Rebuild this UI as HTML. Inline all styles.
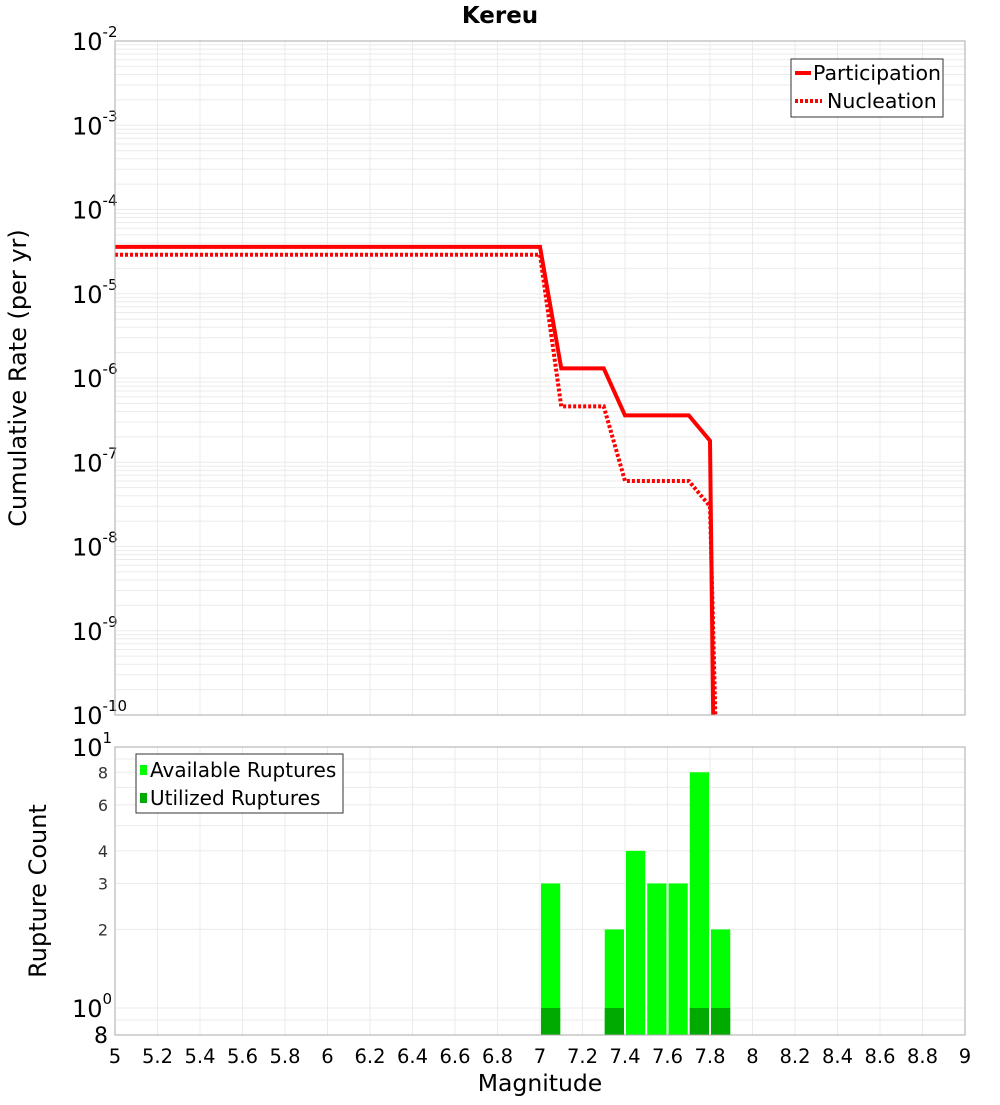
<!DOCTYPE html>
<html><head><meta charset="utf-8"><style>
body{margin:0;background:#fff;}
svg text{font-family:"DejaVu Sans","Liberation Sans",sans-serif;}
</style></head><body>
<svg id="chart" width="1000" height="1100" xmlns="http://www.w3.org/2000/svg">
<rect width="1000" height="1100" fill="#fff"/>
<text x="500" y="23" text-anchor="middle" font-size="23" font-weight="bold">Kereu</text>
<g id="grid"></g>
<g id="bars"></g>
<g id="lines"></g>
<g id="axes"></g>
<rect x="115" y="41" width="850" height="674" fill="none" stroke="#aaa"/>
<rect x="115" y="747" width="850" height="288" fill="none" stroke="#aaa"/>
<text transform="translate(26,378) rotate(-90)" text-anchor="middle" font-size="24">Cumulative Rate (per yr)</text>
<text transform="translate(46,891) rotate(-90)" text-anchor="middle" font-size="24">Rupture Count</text>
<text x="540" y="1091" text-anchor="middle" font-size="23.5">Magnitude</text>
<g>
<rect x="791" y="59" width="152" height="58" fill="#fff" stroke="#333"/>
<line x1="795" y1="73" x2="811" y2="73" stroke="#f00" stroke-width="4"/>
<text x="813" y="80" font-size="20.5">Participation</text>
<line x1="795" y1="101" x2="822" y2="101" stroke="#f00" stroke-width="4" stroke-dasharray="3,2"/>
<text x="827" y="108" font-size="20.5">Nucleation</text>
</g>
<g>
<rect x="136" y="754" width="207" height="59" fill="#fff" stroke="#333"/>
<rect x="140" y="765" width="7" height="10" fill="#00ff00"/>
<text x="150" y="777" font-size="20">Available Ruptures</text>
<rect x="140" y="793" width="7" height="10" fill="#00aa00"/>
<text x="150" y="805" font-size="20">Utilized Ruptures</text>
</g>
</svg>
<script>
const partMag=[5,7.0,7.1,7.3,7.4,7.7,7.8,7.815];
const partRate=[3.6e-5,3.6e-5,1.3e-6,1.3e-6,3.6e-7,3.6e-7,1.8e-7,1e-10];
const nuclMag=[5,7.0,7.1,7.3,7.4,7.7,7.8,7.825];
const nuclRate=[2.9e-5,2.9e-5,4.6e-7,4.6e-7,6.0e-8,6.0e-8,3.0e-8,1e-10];
const barMag=[7.0,7.3,7.4,7.5,7.6,7.7,7.8];
const availCount=[3,2,4,3,3,8,2];
const utilCount=[1,1,0,0,0,1,1];
const xTicks=[5,5.2,5.4,5.6,5.8,6,6.2,6.4,6.6,6.8,7,7.2,7.4,7.6,7.8,8,8.2,8.4,8.6,8.8,9];
const topExps=[-2,-3,-4,-5,-6,-7,-8,-9,-10];
const botMinor=[8,6,4,3,2];

const NS="http://www.w3.org/2000/svg";
const X=m=>115+(m-5)*212.5;
const YT=v=>41+(-2-Math.log10(v))*84.25;
const YB=v=>1008-Math.log10(v)*261;
function mk(p,tag,attrs){const e=document.createElementNS(NS,tag);for(const k in attrs)e.setAttribute(k,attrs[k]);p.appendChild(e);return e;}
const grid=document.getElementById('grid'),axes=document.getElementById('axes'),bars=document.getElementById('bars'),lines=document.getElementById('lines');
xTicks.forEach(t=>{
  const x=X(t);
  let l=mk(grid,'line',{x1:x,x2:x,y1:41,y2:715,stroke:'#ebebeb'});
  
  
  l=mk(grid,'line',{x1:x,x2:x,y1:747,y2:1035,stroke:'#ebebeb'});
  
  
  const tx=mk(axes,'text',{x:x,y:1063,'text-anchor':'middle','font-size':'19.5'});
  tx.textContent=String(t);
  
  
});
for(let e=-10;e<-2;e++){for(let k=1;k<10;k++){const y=YT(k*Math.pow(10,e));
  const l=mk(grid,'line',{x1:115,x2:965,y1:y,y2:y,stroke:'#ebebeb'});
  
  }}
[0.9,1,2,3,4,5,6,7,8,9].forEach(v=>{const y=YB(v);
  const l=mk(grid,'line',{x1:115,x2:965,y1:y,y2:y,stroke:'#ebebeb'});
  
  });
topExps.forEach(e=>{const y=YT(Math.pow(10,e));
  const t=mk(axes,'text',{x:72,y:y+9,'font-size':'24'});
  
  
  t.textContent='10';
  const s=mk(t,'tspan',{dy:'-13','font-size':'15'});s.textContent=String(e);});
[[10,'1'],[1,'0']].forEach(([v,e])=>{const y=YB(v);
  const t=mk(axes,'text',{x:72,y:y+9,'font-size':'24'});
  
  
  t.textContent='10';
  const s=mk(t,'tspan',{dy:'-13','font-size':'15'});s.textContent=e;});
botMinor.forEach(v=>{const t=mk(axes,'text',{x:108,y:YB(v)+6,'text-anchor':'end','font-size':'16',fill:'#333'});
  t.textContent=String(v);
  
  });
{const t=mk(axes,'text',{x:94,y:1043,'font-size':'22'});t.textContent='8';
  
  }
barMag.forEach((m,i)=>{
  const x0=X(m)+1,w=X(m+0.1)-X(m)-2,base=1035;
  const a=mk(bars,'rect',{x:x0,y:YB(availCount[i]),width:w,height:base-YB(availCount[i]),fill:'#00ff00'});
  
  
  if(utilCount[i]>0){const u=mk(bars,'rect',{x:x0,y:YB(utilCount[i]),width:w,height:base-YB(utilCount[i]),fill:'#00aa00'});
    
    }
});
const clip=mk(lines,'clipPath',{id:'cp'});mk(clip,'rect',{x:115,y:41,width:850,height:674});
const pp=mk(lines,'polyline',{points:partMag.map((m,i)=>X(m)+','+YT(partRate[i])).join(' '),fill:'none',stroke:'#f00','stroke-width':'4','clip-path':'url(#cp)'});


const np=mk(lines,'polyline',{points:nuclMag.map((m,i)=>X(m)+','+YT(nuclRate[i])).join(' '),fill:'none',stroke:'#f00','stroke-width':'4','stroke-dasharray':'3,2','clip-path':'url(#cp)'});


</script>
</body></html>
